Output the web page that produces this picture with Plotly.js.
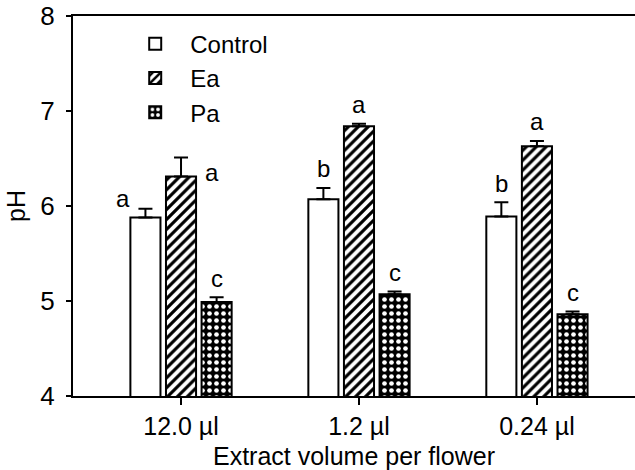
<!DOCTYPE html>
<html>
<head>
<meta charset="utf-8">
<script src="https://cdn.plot.ly/plotly-3.0.1.min.js"></script>
<style>html,body{margin:0;padding:0;background:#fff;}</style>
</head>
<body>
<div id="chart" style="width:635px;height:470px;"></div>
<script>
// ---- data ----
var categories = ["12.0 \u00b5l", "1.2 \u00b5l", "0.24 \u00b5l"];
var positions = [0, 1, 2];
var controlVals = [5.88, 6.07, 5.89];
var controlErr  = [0.09, 0.12, 0.15];
var eaVals = [6.31, 6.84, 6.63];
var eaErr  = [0.20, 0.025, 0.055];
var paVals = [4.99, 5.07, 4.86];
var paErr  = [0.05, 0.03, 0.03];
var controlLetters = ["a", "b", "b"];
var eaLetters = ["a", "a", "a"];
var paLetters = ["c", "c", "c"];

var FONT = "Liberation Sans, Arial, sans-serif";
var zeros = [0, 0, 0];

function errObj(arr) {
  return {type: "data", symmetric: false, array: arr, arrayminus: zeros,
          color: "#000", thickness: 2, width: 7};
}

var traces = [
  {type: "bar", name: "Control", x: positions, y: controlVals,
   error_y: errObj(controlErr),
   marker: {color: "#fff", line: {color: "#000", width: 2}}},
  {type: "bar", name: "Ea", x: positions, y: eaVals,
   error_y: errObj(eaErr),
   marker: {color: "#fff", line: {color: "#000", width: 2},
            pattern: {shape: "/", fillmode: "replace", bgcolor: "#fff", fgcolor: "#000", size: 7, solidity: 0.45}}},
  {type: "bar", name: "Pa", x: positions, y: paVals,
   error_y: errObj(paErr),
   marker: {color: "#000", line: {color: "#000", width: 2},
            pattern: {shape: ".", fillmode: "replace", bgcolor: "#000", fgcolor: "#fff", size: 7, solidity: 0.35}}}
];

var offsets = [-0.2, 0, 0.2];
var series = [
  {v: controlVals, e: controlErr, l: controlLetters},
  {v: eaVals, e: eaErr, l: eaLetters},
  {v: paVals, e: paErr, l: paLetters}
];
var annotations = [];
series.forEach(function (s, si) {
  for (var i = 0; i < positions.length; i++) {
    var ann = {x: positions[i] + offsets[si], y: s.v[i] + s.e[i], text: s.l[i],
               showarrow: false, xref: "x", yref: "y", yanchor: "middle", yshift: 19,
               font: {family: FONT, size: 24, color: "#000"}};
    if (si === 0 && i === 0) { ann.xshift = -22; ann.yshift = 10; }
    if (si === 1 && i === 0) { ann.xshift = 31; ann.yshift = -15; }
    annotations.push(ann);
  }
});

var layout = {
  width: 635, height: 470,
  margin: {l: 73, r: 0, t: 16, b: 74},
  paper_bgcolor: "#fff", plot_bgcolor: "#fff",
  font: {family: FONT, size: 25, color: "#000"},
  barmode: "group", bargap: 0.4, bargroupgap: 0.155,
  showlegend: true,
  legend: {x: 0.084, y: 0.985, xanchor: "left", yanchor: "top",
           bgcolor: "rgba(0,0,0,0)", font: {family: FONT, size: 24, color: "#000"},
           itemwidth: 60, tracegroupgap: 2},
  xaxis: {range: [-0.607, 2.551], tickmode: "array", tickvals: positions, ticktext: categories,
          showline: true, linecolor: "#000", linewidth: 2, mirror: true,
          ticks: "outside", ticklen: 7, tickwidth: 2, tickcolor: "#000",
          showgrid: false, zeroline: false, fixedrange: true,
          tickfont: {family: FONT, size: 25},
          title: {text: "Extract volume per flower", font: {family: FONT, size: 25}, standoff: 8}},
  yaxis: {range: [4, 8], tickmode: "array", tickvals: [4, 5, 6, 7, 8],
          showline: true, linecolor: "#000", linewidth: 2,
          ticks: "outside", ticklen: 5, tickwidth: 2, tickcolor: "#000",
          showgrid: false, zeroline: false, fixedrange: true,
          tickfont: {family: FONT, size: 26}, ticklabelstandoff: 6,
          title: {text: "pH", font: {family: FONT, size: 25}, standoff: 8}},
  annotations: annotations
};

Plotly.newPlot("chart", traces, layout, {staticPlot: true, displayModeBar: false});
</script>
</body>
</html>
